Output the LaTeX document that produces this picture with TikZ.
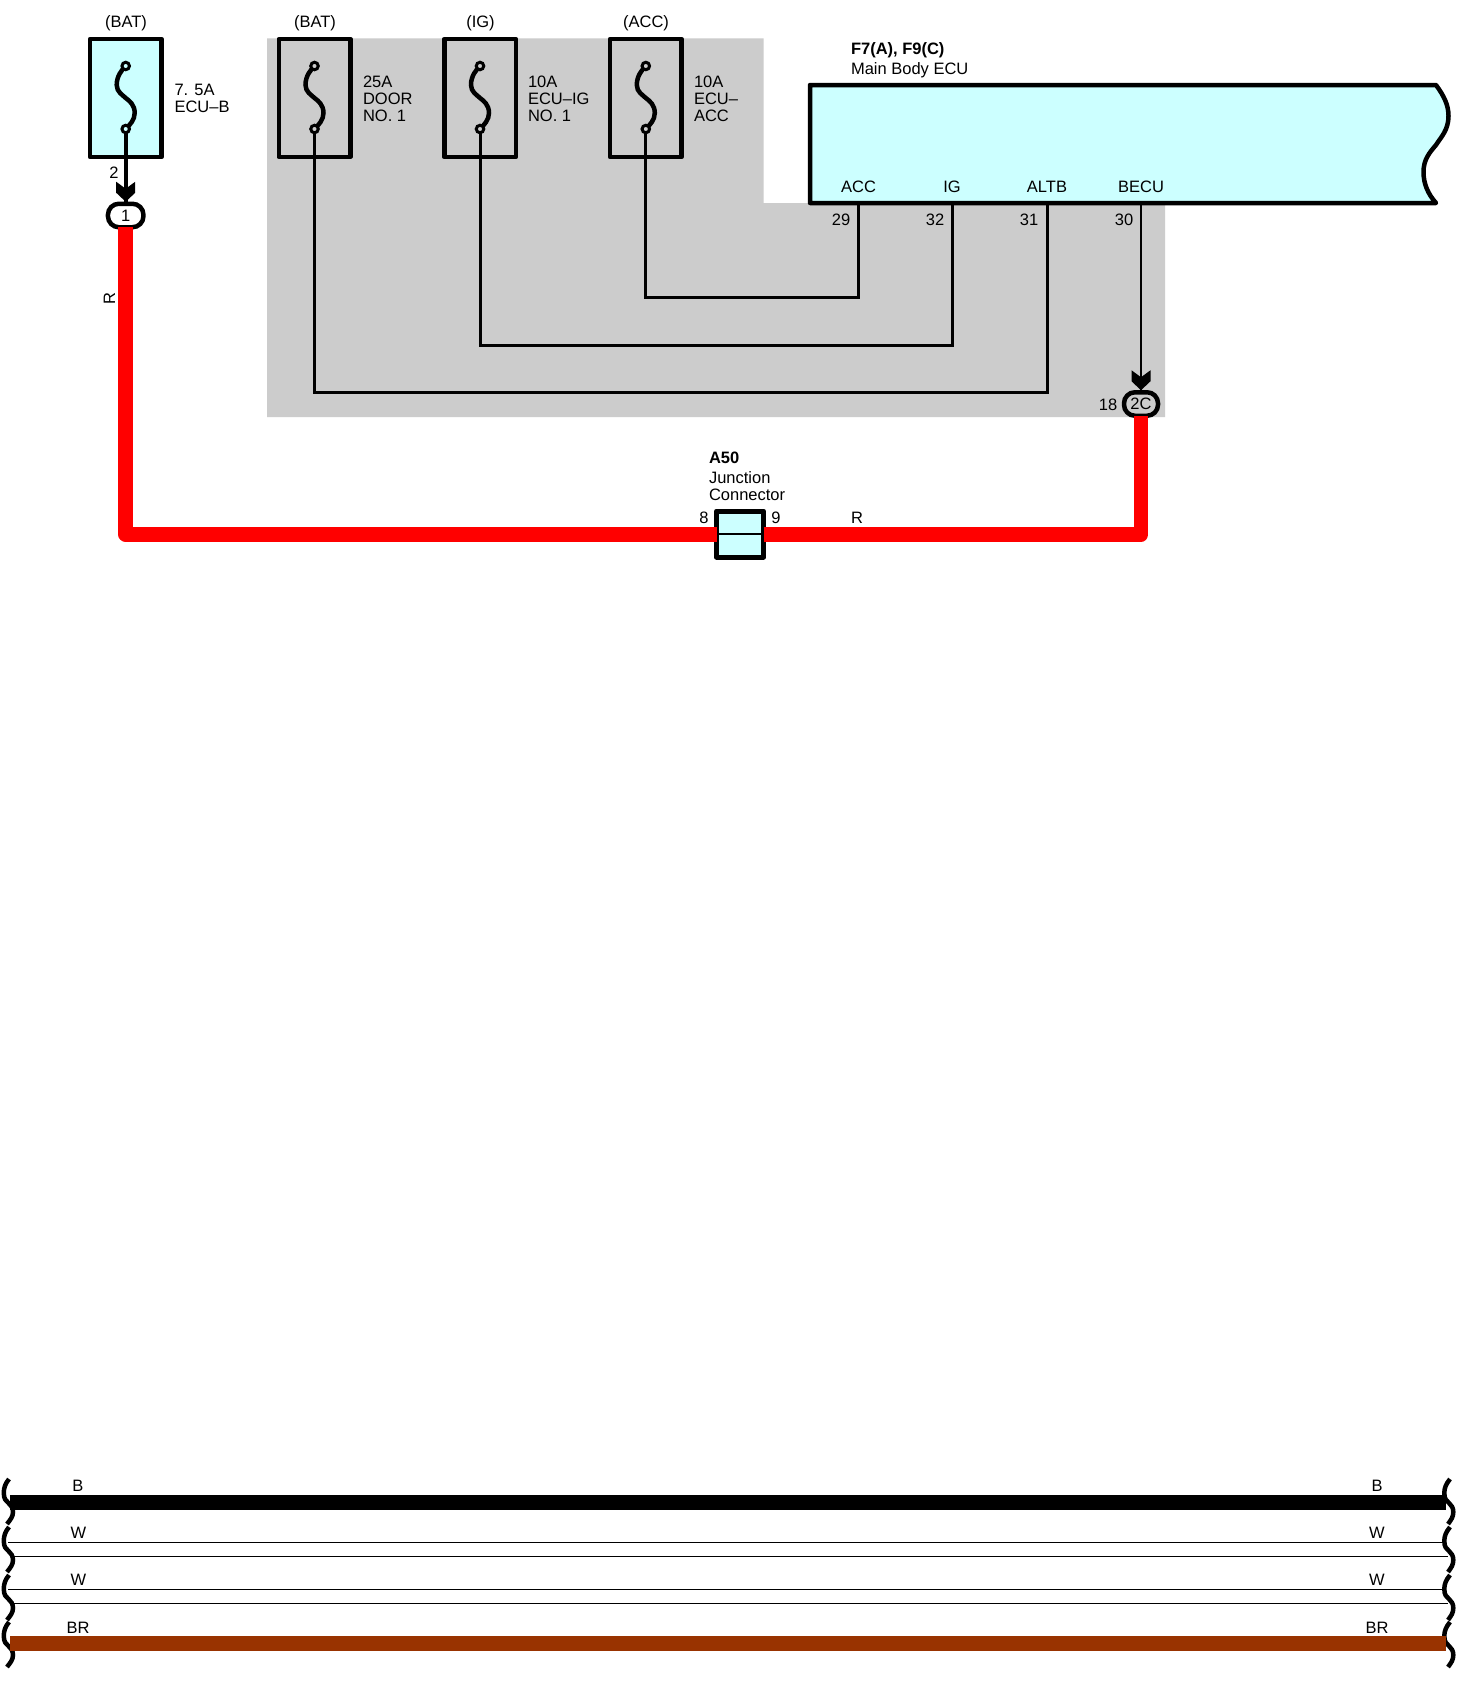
\documentclass[tikz,border=0pt]{standalone}
\usepackage{fontspec}
\setmainfont{Liberation Sans}
\definecolor{cyanfill}{HTML}{CCFFFF}
\definecolor{greybg}{HTML}{CCCCCC}
\definecolor{redwire}{HTML}{FF0000}
\definecolor{brwire}{HTML}{993300}
\tikzset{
  lbl/.style={font=\fontsize{16.5}{17.3}\selectfont,inner sep=0pt,outer sep=0pt,text=black,xshift=1pt,yshift=-1pt},
  lft/.style={lbl,anchor=west,align=left},
  fusebox/.style={draw=black,line width=4.5pt,inner sep=0pt,outer sep=0pt,minimum width=71.5pt,minimum height=118pt,line join=round},
  term/.style={circle,draw=black,line width=3pt,minimum size=7.5pt,inner sep=0pt,outer sep=0pt},
  fuselink/.style={draw=black,line width=4.5pt},
  wirethin/.style={draw=black,line width=3pt,line join=miter},
  conn/.style={draw=black,line width=4.5pt,rounded corners=11pt,inner sep=0pt,outer sep=0pt,minimum height=23.5pt,font=\fontsize{16.5}{17.3}\selectfont},
  redthick/.style={draw=redwire,line width=14.5pt,line join=round},
  wavy/.style={draw=black,line width=4.5pt},
  hairwire/.style={draw=black,line width=1.5pt}
}
\newcommand{\chevron}[1]{\fill[black] ([shift={(-9.5,-22)}]#1.north) -- ([shift={(0,-15)}]#1.north) -- ([shift={(9.5,-22)}]#1.north) -- ([shift={(9.5,-11)}]#1.north) -- ([shift={(0,-2)}]#1.north) -- ([shift={(-9.5,-11)}]#1.north) -- cycle;}
\begin{document}
\begin{tikzpicture}[x=1pt,y=-1pt]
\useasboundingbox[fill=white] (0,0) rectangle (1482,1686);
% shaded region
\fill[greybg] (267,38.5) -- (763.5,38.5) -- (763.5,203) -- (1165,203) -- (1165,417) -- (267,417) -- cycle;
% fuses
\foreach \n/\x/\c in {f1/125.7/cyanfill,f2/314.5/greybg,f3/480/greybg,f4/645.8/greybg}{
  \node[fusebox,fill=\c] (\n) at (\x,98) {};
  \draw[fuselink] (\x,66) .. controls (\x-4,70) and (\x-9,76) .. (\x-9,85) .. controls (\x-9,92) and (\x-3,95) .. (\x,98) .. controls (\x+4,101) and (\x+9,105) .. (\x+9,113) .. controls (\x+9,120) and (\x+4,125) .. (\x,129);
  \node[term,fill=\c] (\n t) at (\x,66) {};
  \node[term,fill=\c] (\n b) at (\x,129) {};
}
% supply labels
\node[lbl] (s1) at (125,22) {(BAT)};
\node[lbl] (s2) at (314,22) {(BAT)};
\node[lbl] (s3) at (479.5,22) {(IG)};
\node[lbl] (s4) at (645,22) {(ACC)};
\node[lft] (l1) at (173.5,97.5) {7. 5A\\ECU--B};
\node[lft] (l2) at (362,98) {25A\\DOOR\\NO. 1};
\node[lft] (l3) at (527,98) {10A\\ECU--IG\\NO. 1};
\node[lft] (l4) at (693,98) {10A\\ECU--\\ACC};
% ECU
\path[fill=cyanfill,draw=black,line width=4.5pt,line join=round,line cap=round] (810,85) -- (1436,85) .. controls (1444,96) and (1448.5,105) .. (1448.5,116) .. controls (1448.5,130) and (1441,137) .. (1436,145) .. controls (1429,153) and (1423.5,160) .. (1423.5,172) .. controls (1423.5,184) and (1428,194) .. (1436,203) -- (810,203) -- cycle;
\node[lbl,anchor=west,font=\fontsize{16.5}{17.3}\bfseries\selectfont] (e1) at (850,49.5) {F7(A), F9(C)};
\node[lbl,anchor=west] (e2) at (850,69) {Main Body ECU};
\node[lbl] (pa) at (857.5,186) {ACC};
\node[lbl] (pb) at (951,186) {IG};
\node[lbl] (pc) at (1046,186) {ALTB};
\node[lbl] (pd) at (1140,186) {BECU};
\coordinate (p29) at (858.5,205);
\coordinate (p32) at (952,205);
\coordinate (p31) at (1047,205);
\coordinate (p30) at (1141,205);
\node[lbl] (n29) at (840,219) {29};
\node[lbl] (n32) at (934,219) {32};
\node[lbl] (n31) at (1028,219) {31};
\node[lbl] (n30) at (1123,219) {30};
% connectors
\node[conn,fill=white,minimum width=35.5pt] (c1) at (125.7,215.5) {1};
\node[conn,fill=greybg,minimum width=34pt] (c2) at (1141,404) {2C};
\node[lbl] (n2) at (113,172) {2};
\node[lbl] (n18) at (1107,404) {18};
% junction connector
\node[draw=black,fill=cyanfill,line width=5pt,line join=round,inner sep=0pt,outer sep=0pt,minimum width=47pt,minimum height=46pt] (a50) at (740,534) {};
\draw[black,line width=2.5pt] (a50.west) -- (a50.east);
\node[lbl,anchor=west,font=\fontsize{16.5}{17.3}\bfseries\selectfont] (a1) at (708,457) {A50};
\node[lft] (a2) at (708,477) {Junction};
\node[lft] (a3) at (708,494) {Connector};
\node[lbl] (n8) at (703,517) {8};
\node[lbl] (n9) at (775,517) {9};
\node[lbl] (rr) at (856,517) {R};
\node[lbl,rotate=90] (rl) at (108.5,297.6) {R};
% thin wires
\coordinate (w4) at (645.8,297.6);
\coordinate (w3) at (480,345);
\coordinate (w2) at (314.5,392);
\draw[wirethin] (f4b) -- (w4) -| (p29);
\draw[wirethin] (f3b) -- (w3) -| (p32);
\draw[wirethin] (f2b) -- (w2) -| (p31);
\draw[draw=black,line width=2.8pt] (p30) -- (c2.north);
\draw[draw=black,line width=3.8pt] (f1b) -- (c1.north);
\chevron{c1}
\chevron{c2}
% thick red wires
\coordinate (rca) at (125.7,534.6);
\coordinate (rcb) at (1141,534.6);
\draw[redthick] (c1.south) -- (rca) -- (a50.west |- rca);
\draw[redthick] (a50.east |- rcb) -- (rcb) -- (c2.south);
% bottom harness
\foreach \y in {1479,1527,1575,1622}{
  \draw[wavy] (9,\y) .. controls (5,\y+5) and (3.8,\y+9) .. (3.8,\y+14) .. controls (3.8,\y+20) and (6,\y+22) .. (8.5,\y+24) .. controls (11,\y+26) and (13,\y+29) .. (13,\y+33) .. controls (13,\y+38) and (10,\y+41) .. (7,\y+45);
  \draw[wavy] (1450,\y) .. controls (1446,\y+5) and (1444.3,\y+9) .. (1444.3,\y+14) .. controls (1444.3,\y+20) and (1446.5,\y+22) .. (1449,\y+24) .. controls (1451.5,\y+26) and (1453.3,\y+29) .. (1453.3,\y+33) .. controls (1453.3,\y+38) and (1451,\y+41) .. (1448,\y+45);
}
\coordinate (bl) at (10,1502.5); \coordinate (br) at (1446,1502.5);
\coordinate (wa) at (8,1542.5); \coordinate (wb) at (1444,1542.5);
\coordinate (wc) at (12,1556.5); \coordinate (wd) at (1448,1556.5);
\coordinate (we) at (8,1589.5); \coordinate (wf) at (1444,1589.5);
\coordinate (wg) at (12,1603.5); \coordinate (wh) at (1448,1603.5);
\coordinate (ra) at (10,1643.5); \coordinate (rb) at (1446,1643.5);
\draw[draw=black,line width=15pt] (bl) -- (br);
\draw[hairwire] (wa) -- (wb);
\draw[hairwire] (wc) -- (wd);
\draw[hairwire] (we) -- (wf);
\draw[hairwire] (wg) -- (wh);
\draw[draw=brwire,line width=15pt] (ra) -- (rb);
\node[lbl] (tb1) at (77,1485) {B};
\node[lbl] (tb2) at (1376,1485) {B};
\node[lbl] (tw1) at (77.5,1532) {W};
\node[lbl] (tw2) at (1376,1532) {W};
\node[lbl] (tw3) at (77.5,1579) {W};
\node[lbl] (tw4) at (1376,1579) {W};
\node[lbl] (tr1) at (77,1626.5) {BR};
\node[lbl] (tr2) at (1376,1626.5) {BR};
\end{tikzpicture}
\end{document}
